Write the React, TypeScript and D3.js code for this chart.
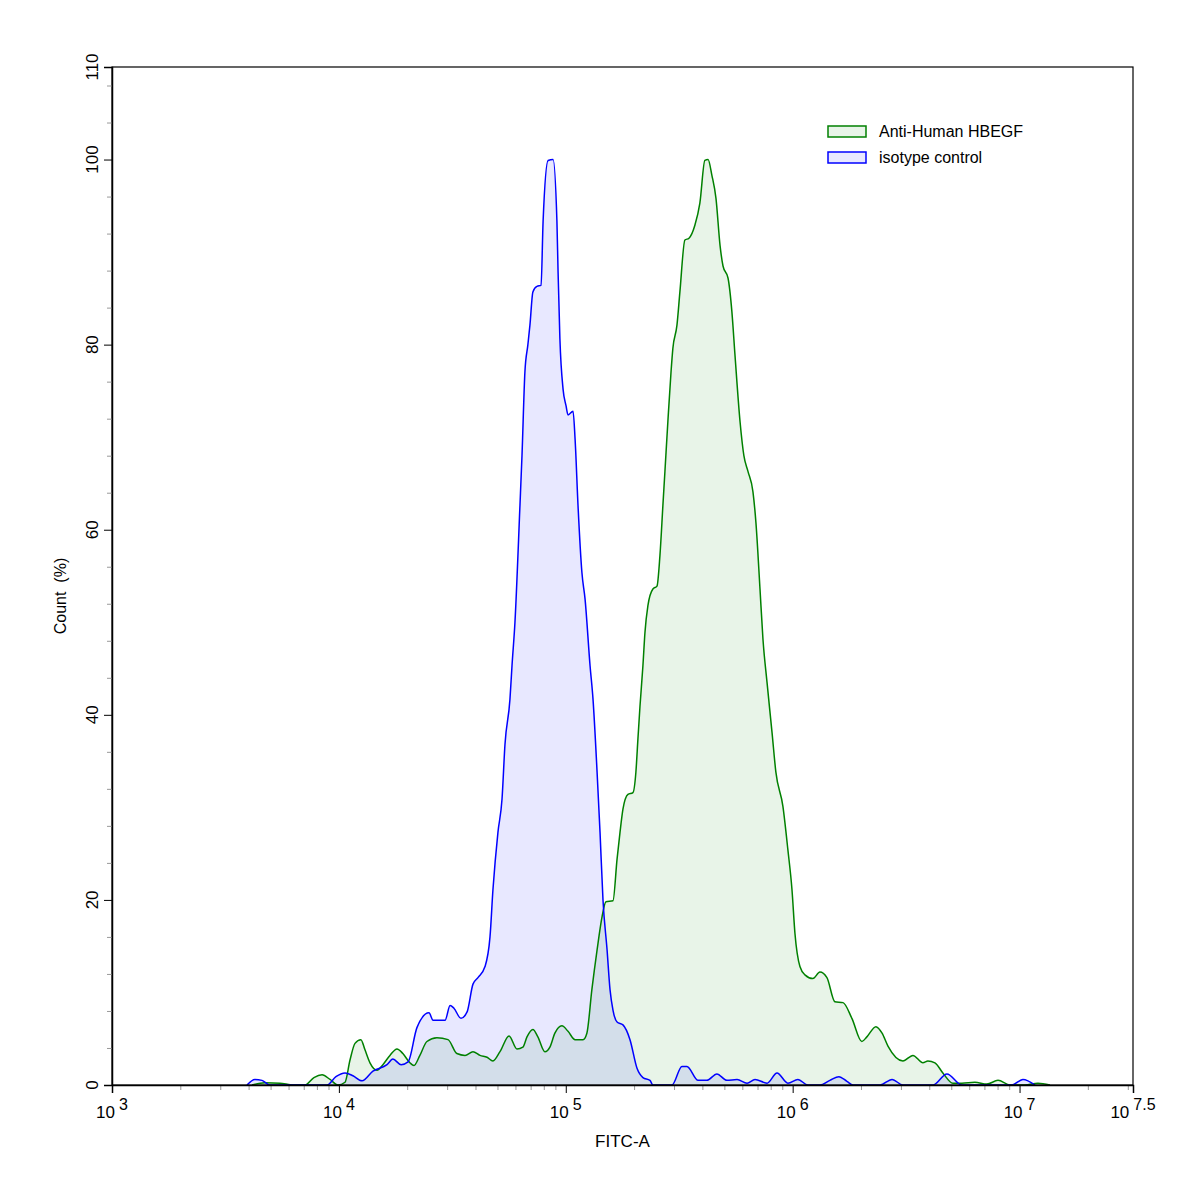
import React, { useEffect, useRef } from 'react';
import * as d3 from 'd3';

// log10(FITC-A) bin positions and Count (%) for each population
const isoLog = [
  3.595, 3.630, 3.661, 3.696, 3.948, 3.987, 4.027, 4.062, 4.102, 4.150, 4.212, 4.238, 4.274, 4.305,
  4.344, 4.397, 4.415, 4.468, 4.490, 4.507, 4.538, 4.565, 4.591, 4.613, 4.644, 4.666, 4.679, 4.701,
  4.719, 4.732, 4.754, 4.763, 4.776, 4.798, 4.807, 4.820, 4.833, 4.842, 4.855, 4.873, 4.891, 4.900,
  4.922, 4.944, 4.961, 4.966, 4.974, 4.988, 5.001, 5.010, 5.032, 5.041, 5.054, 5.071, 5.085, 5.107,
  5.120, 5.138, 5.151, 5.164, 5.182, 5.195, 5.208, 5.226, 5.252, 5.283, 5.314, 5.340, 5.371, 5.384,
  5.468, 5.512, 5.534, 5.583, 5.622, 5.666, 5.710, 5.755, 5.799, 5.834, 5.887, 5.931, 5.979, 6.023,
  6.067, 6.120, 6.164, 6.204, 6.239, 6.266, 6.385, 6.438, 6.486, 6.618, 6.680, 6.746, 6.966, 7.015,
  7.068,
];
const isoCount = [
  0, 0.6, 0.5, 0, 0, 0.9, 1.3, 1.0, 0.45, 1.5, 2.2, 2.8, 2.2, 2.5,
  6.2, 7.8, 7.0, 7.0, 8.6, 8.3, 7.2, 7.9, 10.9, 11.6, 12.8, 16.0, 21.1, 27.3,
  30.9, 36.8, 41.7, 45.3, 50.0, 62.6, 68.0, 77.1, 80.0, 82.1, 85.7, 86.3, 86.4, 93.3,
  99.9, 100, 93.3, 87.9, 80.7, 75.2, 73.4, 72.4, 72.8, 69.8, 62.6, 55.4, 52.5, 45.3,
  41.7, 33.8, 27.3, 20.0, 14.6, 10.3, 8.1, 6.8, 6.5, 4.9, 1.8, 0.8, 0.5, 0,
  0, 2.0, 2.0, 0.5, 0.5, 1.2, 0.5, 0.6, 0.2, 0.6, 0.2, 1.3, 0.2, 0.6,
  0, 0, 0.5, 0.9, 0.4, 0, 0, 0.6, 0, 0, 1.2, 0, 0, 0.6,
  0,
];

const hbegfLog = [
  3.617, 3.674, 3.740, 3.798, 3.851, 3.890, 3.926, 3.961, 3.996, 4.027, 4.049, 4.071, 4.097, 4.115,
  4.137, 4.168, 4.194, 4.225, 4.256, 4.282, 4.313, 4.331, 4.357, 4.388, 4.432, 4.481, 4.520, 4.556,
  4.591, 4.622, 4.653, 4.679, 4.710, 4.750, 4.785, 4.811, 4.829, 4.855, 4.877, 4.908, 4.930, 4.952,
  4.983, 5.010, 5.041, 5.076, 5.093, 5.115, 5.138, 5.160, 5.177, 5.208, 5.226, 5.239, 5.252, 5.274,
  5.296, 5.309, 5.318, 5.327, 5.340, 5.349, 5.362, 5.384, 5.402, 5.415, 5.428, 5.437, 5.450, 5.464,
  5.472, 5.490, 5.503, 5.525, 5.543, 5.569, 5.591, 5.613, 5.627, 5.644, 5.662, 5.680, 5.693, 5.715,
  5.732, 5.746, 5.768, 5.785, 5.803, 5.825, 5.838, 5.856, 5.869, 5.887, 5.909, 5.926, 5.957, 5.979,
  5.997, 6.010, 6.032, 6.054, 6.089, 6.120, 6.151, 6.186, 6.222, 6.261, 6.305, 6.327, 6.367, 6.394,
  6.420, 6.486, 6.530, 6.574, 6.596, 6.627, 6.662, 6.706, 6.746, 6.803, 6.856, 6.905, 6.958, 7.024,
  7.081, 7.134,
];
const hbegfCount = [
  0, 0.25, 0.2, 0, 0, 0.8, 1.1, 0.6, 0, 0.3, 2.7, 4.5, 4.9, 3.8,
  2.4, 1.6, 2.2, 3.2, 3.9, 3.4, 2.4, 2.1, 3.2, 4.7, 5.1, 4.9, 3.4, 3.2,
  3.6, 3.2, 3.0, 2.6, 3.6, 5.3, 3.9, 4.1, 5.2, 6.0, 5.2, 3.6, 4.1, 5.6,
  6.4, 5.8, 4.9, 4.9, 5.6, 10.3, 14.6, 18.2, 19.8, 19.9, 24.4, 27.3, 29.8, 31.4,
  31.6, 33.8, 37.4, 40.9, 45.3, 48.9, 51.8, 53.6, 53.9, 57.2, 62.6, 66.3, 71.7, 77.1,
  79.6, 82.1, 85.7, 91.3, 91.5, 92.9, 95.3, 99.9, 100, 98.3, 95.8, 90.7, 88.5, 87.2,
  83.6, 78.8, 71.7, 68.0, 66.3, 64.1, 60.8, 53.6, 48.2, 43.5, 38.1, 33.8, 30.1, 25.4,
  21.1, 16.4, 12.8, 11.9, 11.5, 12.2, 11.6, 9.0, 8.9, 7.2, 4.7, 5.2, 6.3, 5.6,
  4.2, 2.6, 3.2, 2.4, 2.6, 2.4, 1.3, 0.2, 0.2, 0.3, 0.1, 0.5, 0, 0,
  0.2, 0,
];

const xMajorExp = [3, 4, 5, 6, 7, 7.5];
const yMajorTicks = [0, 20, 40, 60, 80, 100, 110];
const legendLabels = ['Anti-Human HBEGF', 'isotype control'];

const FONT = '"Liberation Sans", Arial, Helvetica, sans-serif';

export default function App() {
  const svgRef = useRef<SVGSVGElement>(null);
  const width = 1197;
  const height = 1193;

  useEffect(() => {
    if (!svgRef.current) return;
    const svg = d3.select(svgRef.current);
    svg.selectAll('*').remove();

    const margin = { top: 67, right: 64, bottom: 108, left: 112 };
    const x = d3.scaleLog()
      .domain([1e3, Math.pow(10, 7.5)])
      .range([margin.left, width - margin.right]);
    const y = d3.scaleLinear()
      .domain([0, 110])
      .range([height - margin.bottom, margin.top]);

    const series = [
      { name: legendLabels[0], xs: hbegfLog, ys: hbegfCount, stroke: '#008000', fill: 'rgba(0,128,0,0.09)' },
      { name: legendLabels[1], xs: isoLog, ys: isoCount, stroke: '#0000ff', fill: 'rgba(0,0,255,0.09)' },
    ];

    const area = d3.area<[number, number]>()
      .x(d => x(Math.pow(10, d[0])))
      .y0(y(0))
      .y1(d => y(d[1]))
      .curve(d3.curveMonotoneX);
    const line = d3.line<[number, number]>()
      .x(d => x(Math.pow(10, d[0])))
      .y(d => y(d[1]))
      .curve(d3.curveMonotoneX);

    // fills first, then outlines
    series.forEach(s => {
      const pts = s.xs.map((v, i) => [v, s.ys[i]] as [number, number]);
      svg.append('path').datum(pts).attr('fill', s.fill).attr('d', area);
    });
    series.forEach(s => {
      const pts = s.xs.map((v, i) => [v, s.ys[i]] as [number, number]);
      svg.append('path').datum(pts)
        .attr('fill', 'none')
        .attr('stroke', s.stroke)
        .attr('stroke-width', 1.5)
        .attr('d', line);
    });

    // frame
    svg.append('rect')
      .attr('x', margin.left).attr('y', margin.top)
      .attr('width', width - margin.right - margin.left)
      .attr('height', height - margin.bottom - margin.top)
      .attr('fill', 'none').attr('stroke', '#000').attr('stroke-width', 1.2);

    // x minor ticks
    const xMinor: number[] = [];
    for (let e = 3; e < 8; e++) {
      for (let k = 2; k <= 9; k++) {
        const v = k * Math.pow(10, e);
        if (v < Math.pow(10, 7.5)) xMinor.push(v);
      }
    }
    svg.append('g')
      .attr('transform', `translate(0,${y(0)})`)
      .call(d3.axisBottom(x).tickValues(xMinor).tickSize(5).tickFormat(() => ''))
      .call(g => g.select('.domain').remove())
      .call(g => g.selectAll('line').attr('stroke', '#999'));

    const xAxis = svg.append('g')
      .attr('transform', `translate(0,${y(0)})`)
      .call(d3.axisBottom(x).tickValues(xMajorExp.map(e => Math.pow(10, e))).tickSize(8).tickFormat(() => ''));
    xAxis.select('.domain').attr('stroke-width', 1.5);

    // x labels: 10 with superscript exponent
    xMajorExp.forEach(e => {
      const t = svg.append('text')
        .attr('x', x(Math.pow(10, e)))
        .attr('y', y(0) + 33)
        .attr('text-anchor', 'middle')
        .attr('font-family', FONT)
        .attr('font-size', 17)
        .attr('fill', '#000');
      t.append('tspan').text('10');
      t.append('tspan').attr('dx', 4).attr('dy', -8).attr('font-size', 16).text(String(e));
    });

    // y minor ticks every 4
    const yMinor = d3.range(4, 110, 4).filter(v => v % 20 !== 0);
    svg.append('g')
      .attr('transform', `translate(${margin.left},0)`)
      .call(d3.axisLeft(y).tickValues(yMinor).tickSize(5).tickFormat(() => ''))
      .call(g => g.select('.domain').remove())
      .call(g => g.selectAll('line').attr('stroke', '#999'));

    const yAxis = svg.append('g')
      .attr('transform', `translate(${margin.left},0)`)
      .call(d3.axisLeft(y).tickValues(yMajorTicks).tickSize(8).tickFormat(() => ''));
    yAxis.select('.domain').attr('stroke-width', 1.5);

    yMajorTicks.forEach(v => {
      svg.append('text')
        .attr('transform', `translate(${margin.left - 14},${y(v)}) rotate(-90)`)
        .attr('text-anchor', 'middle')
        .attr('font-family', FONT)
        .attr('font-size', 17)
        .attr('fill', '#000')
        .text(String(v));
    });

    // axis titles
    svg.append('text')
      .attr('x', (margin.left + width - margin.right) / 2)
      .attr('y', height - 46)
      .attr('text-anchor', 'middle')
      .attr('font-family', FONT)
      .attr('font-size', 17)
      .text('FITC-A');

    svg.append('text')
      .attr('transform', `translate(66,596) rotate(-90)`)
      .attr('text-anchor', 'middle')
      .attr('font-family', FONT)
      .attr('font-size', 16)
      .attr('xml:space', 'preserve')
      .style('white-space', 'pre')
      .text('Count  (%)');

    // legend
    series.forEach((s, i) => {
      const ly = 126 + i * 26;
      svg.append('rect')
        .attr('x', 828).attr('y', ly)
        .attr('width', 38).attr('height', 11)
        .attr('fill', s.fill).attr('stroke', s.stroke).attr('stroke-width', 1.5);
      svg.append('text')
        .attr('x', 879).attr('y', ly + 11)
        .attr('font-family', FONT)
        .attr('font-size', 16)
        .attr('fill', '#000')
        .text(s.name);
    });
  }, []);

  return (
    <svg
      ref={svgRef}
      width={width}
      height={height}
      style={{ position: 'absolute', left: 0, top: 0, background: '#fff' }}
    />
  );
}
